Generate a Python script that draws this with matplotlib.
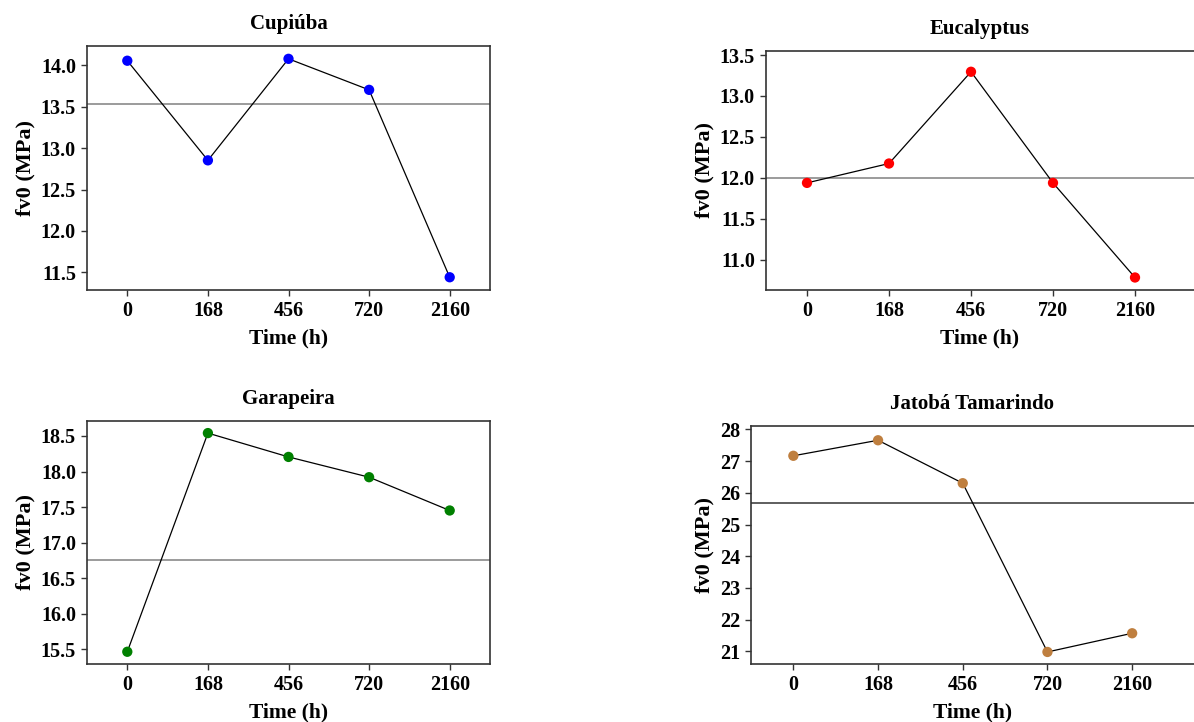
import matplotlib.pyplot as plt

plt.rcParams['font.family'] = ['Liberation Serif', 'DejaVu Serif']
plt.rcParams['font.weight'] = 'bold'

# data
times = ['0', '168', '456', '720', '2160']

cupiuba = [14.057, 12.853, 14.08, 13.705, 11.44]
eucalyptus = [11.937, 12.174, 13.296, 11.937, 10.78]
garapeira = [15.466, 18.54, 18.205, 17.92, 17.452]
jatoba = [27.17, 27.66, 26.305, 20.98, 21.57]

ref_lines = [13.54, 12.0, 16.758, 25.67]
titles = ['Cupiúba', 'Eucalyptus', 'Garapeira', 'Jatobá Tamarindo']
colors = ['#0000FF', '#FF0000', '#008000', '#BF7F3F']
ref_colors = ['#808080', '#808080', '#808080', '#333333']
ylims = [(11.286, 14.235), (10.627, 13.55), (15.294, 18.71), (20.6, 28.11)]
yticks = [[11.5, 12.0, 12.5, 13.0, 13.5, 14.0],
          [11.0, 11.5, 12.0, 12.5, 13.0, 13.5],
          [15.5, 16.0, 16.5, 17.0, 17.5, 18.0, 18.5],
          [21, 22, 23, 24, 25, 26, 27, 28]]

W, H = 1194, 722
fig = plt.figure(figsize=(W / 100, H / 100), dpi=100)

# axes boxes in pixels: left, top, right, bottom
boxes = [(87, 46, 490, 290), (766, 51, 1194, 290),
         (87, 421, 490, 664), (751, 426, 1194, 664)]
# tick spacing in px for the right column (axes run past the figure edge)
right_step = {1: 82.0, 3: 84.7}

series = [cupiuba, eucalyptus, garapeira, jatoba]
for i, vals in enumerate(series):
    l, t, r, b = boxes[i]
    ax = fig.add_axes([l / W, 1 - b / H, (r - l) / W, (b - t) / H])
    x = list(range(len(times)))
    ax.plot(x, vals, color='black', lw=0.9, zorder=2)
    ax.scatter(x, vals, color=colors[i], s=55, zorder=3, edgecolors='none')
    ax.axhline(ref_lines[i], color=ref_colors[i], lw=1.1, zorder=1)

    ax.set_ylim(*ylims[i])
    ax.set_yticks(yticks[i])
    if i == 3:
        ax.set_yticklabels([f'{v:d}' for v in yticks[i]])
    else:
        ax.set_yticklabels([f'{v:.1f}' for v in yticks[i]])
    ax.set_xticks(x)
    ax.set_xticklabels(times)

    if i % 2 == 0:
        ax.set_xlim(-0.5, 4.5)
    else:
        ax.set_xlim(-0.5, -0.5 + (r - l) / right_step[i])
        ax.spines['right'].set_visible(False)

    for s in ax.spines.values():
        s.set_color('#333333')
        s.set_linewidth(1.2)
    ax.tick_params(axis='both', labelsize=14.5, length=4, width=1,
                   color='#333333', pad=4)
    ax.set_title(titles[i], fontsize=15, fontweight='bold', pad=12)
    ax.set_xlabel('Time (h)', fontsize=15.5, fontweight='bold', labelpad=5)
    ax.set_ylabel('fv0 (MPa)', fontsize=16, fontweight='bold', labelpad=4)

fig.savefig('out.png', dpi=100)
